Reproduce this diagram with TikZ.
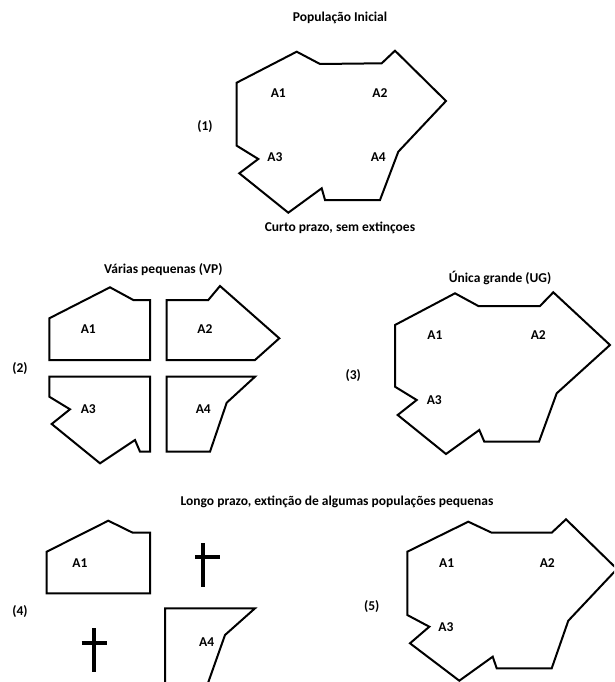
\documentclass[tikz,border=0pt]{standalone}
\usepackage{fontspec}
\setmainfont{Carlito}
\begin{document}
\begin{tikzpicture}[x=1pt,y=-1pt,
  patch/.style={draw=black,line width=2pt,line join=miter},
  lbl/.style={font=\bfseries\fontsize{13.5}{16}\selectfont,inner sep=0pt},
  ttl/.style={font=\bfseries\fontsize{13.5}{16}\selectfont,inner sep=0pt},
  grave/.style={draw=black,line width=3.8pt}]
\clip (0,0) rectangle (614,682);
\fill[white] (0,0) rectangle (614,682);

% (1) initial population
\node[ttl] (t1) at (340,18) {População Inicial};
\draw[patch] (296.7,51.7) -- (320,64) -- (381.7,63.3) -- (395,50.7) -- (446,101)
  -- (398.3,151.7) -- (380,200) -- (325,200) -- (321.7,188.3) -- (288.3,212.7)
  -- (239.3,173.3) -- (258.3,159) -- (236.7,145.7) -- (236.7,82.7) -- cycle;
\node[lbl] (p1a1) at (278.3,93.3) {A1};
\node[lbl] (p1a2) at (380,93.3) {A2};
\node[lbl] (p1a3) at (275,156.7) {A3};
\node[lbl] (p1a4) at (378.3,156.7) {A4};
\node[lbl] (n1) at (205,126.7) {(1)};
\node[ttl] (t2) at (340,228) {Curto prazo, sem extinçoes};

% (2) several small patches
\node[ttl] (t3) at (163.3,269.3) {Várias pequenas (VP)};
\draw[patch] (49.3,318.3) -- (110,287.3) -- (133.3,300) -- (150,300) -- (150,360) -- (49.3,360) -- cycle;
\draw[patch] (166.7,300) -- (208.3,300) -- (220,286) -- (279.3,338.3) -- (255,360) -- (166.7,360) -- cycle;
\draw[patch] (49.3,376.7) -- (150,376.7) -- (150,451.7) -- (140,451.7) -- (135,440) -- (100,463.3)
  -- (51.7,424) -- (70,409.3) -- (49.3,396.7) -- cycle;
\draw[patch] (166.7,376.7) -- (255,376.7) -- (226.7,402.7) -- (210,451.7) -- (166.7,451.7) -- cycle;
\node[lbl] (p2a1) at (88.3,329.3) {A1};
\node[lbl] (p2a2) at (205,329.3) {A2};
\node[lbl] (p2a3) at (88.3,409.3) {A3};
\node[lbl] (p2a4) at (203.3,409.3) {A4};
\node[lbl] (n2) at (20,368.3) {(2)};

% (3) single large patch
\node[ttl] (t4) at (500,278.3) {Única grande (UG)};
\draw[patch] (455,293.3) -- (478.3,306) -- (540,306) -- (553.3,292.3) -- (610,345)
  -- (556.7,393.3) -- (539,441.7) -- (484.3,441.7) -- (479.3,430) -- (446,454)
  -- (397.7,415) -- (416.7,400) -- (395,386.7) -- (395,325) -- cycle;
\node[lbl] (p3a1) at (435,335) {A1};
\node[lbl] (p3a2) at (538.3,335) {A2};
\node[lbl] (p3a3) at (434.3,400) {A3};
\node[lbl] (n3) at (353.3,376) {(3)};

% long term
\node[ttl] (t5) at (337,501.7) {Longo prazo, extinção de algumas populações pequenas};

% (4) small patches after extinctions
\draw[patch] (46.7,551.7) -- (108.3,520.7) -- (132.7,532.7) -- (150,532.7) -- (150,593.3) -- (46.7,593.3) -- cycle;
\draw[patch] (165,700) -- (165,608.3) -- (255,608.3) -- (225,635) -- (202,700);
\node[lbl] (p4a1) at (80,562.7) {A1};
\node[lbl] (p4a4) at (206.7,641.7) {A4};
\node[lbl] (n4) at (20,611.7) {(4)};
\draw[grave] (203.3,543.3) -- (203.3,586.7);
\draw[grave] (195,556.7) -- (220,556.7);
\draw[grave] (94,628.3) -- (94,671.7);
\draw[grave] (81.7,642.7) -- (106.7,642.7);

% (5) large patch after the long term
\draw[patch] (468.3,521.7) -- (491.7,532.7) -- (551.7,532.7) -- (566,519.3) -- (617,569)
  -- (568.3,620.7) -- (551.7,668.3) -- (496.7,668.3) -- (492.7,656.7) -- (459.3,680.7)
  -- (410,643.3) -- (429.3,626.7) -- (407.3,615) -- (407.3,551.7) -- cycle;
\node[lbl] (p5a1) at (446.7,563.3) {A1};
\node[lbl] (p5a2) at (547.3,563.3) {A2};
\node[lbl] (p5a3) at (446,626.7) {A3};
\node[lbl] (n5) at (371.7,606.7) {(5)};
\end{tikzpicture}
\end{document}
